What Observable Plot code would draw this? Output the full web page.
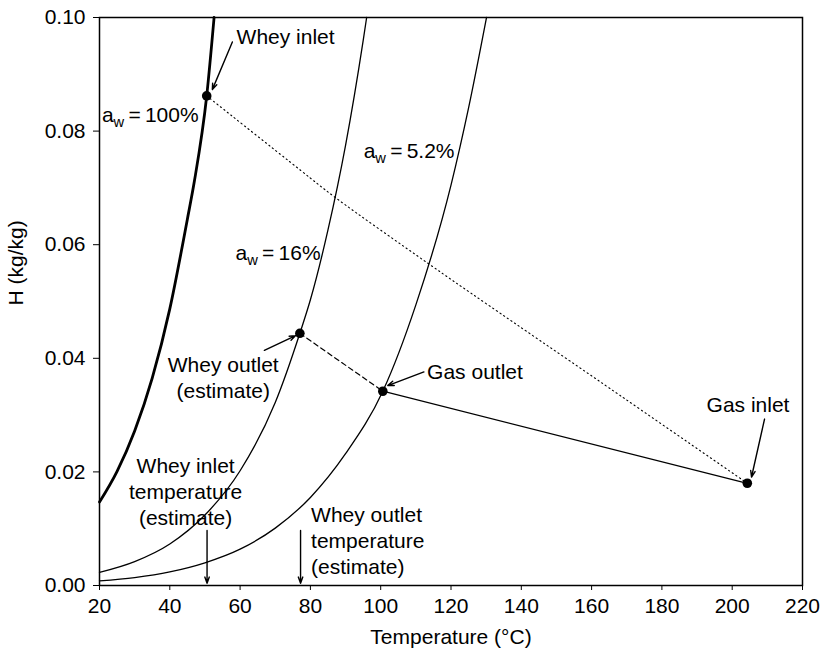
<!DOCTYPE html>
<html><head><meta charset="utf-8">
<script src="https://cdn.jsdelivr.net/npm/d3@7"></script>
<script src="https://cdn.jsdelivr.net/npm/@observablehq/plot@0.6"></script>
<style>
body{margin:0;background:#fff;}
#chart svg{display:block;}
</style>
</head><body><div id="chart"></div>
<script>
// Axis ticks
const xTicks = [20, 40, 60, 80, 100, 120, 140, 160, 180, 200, 220];
const yTicks = [0, 0.02, 0.04, 0.06, 0.08, 0.10];

// Equilibrium curves
const curve100T = [20, 25, 30, 35, 40, 45, 47, 50.5, 52.6];
const curve100H = [0.0147, 0.0201, 0.0272, 0.0365, 0.0487, 0.0645, 0.0712, 0.0862, 0.1000];

const curve16T = [20, 30, 40, 50, 60, 70, 77.0, 80, 85, 90, 95, 96];
const curve16H = [0.0023, 0.0042, 0.0073, 0.0124, 0.0202, 0.0322, 0.0444, 0.0503, 0.0626, 0.0775, 0.0959, 0.1000];

const curve5T = [20, 30, 40, 50, 60, 70, 80, 90, 100.6, 110, 120, 125, 130.1];
const curve5H = [0.0008, 0.0014, 0.0024, 0.0040, 0.0064, 0.0101, 0.0155, 0.0232, 0.0342, 0.0494, 0.0705, 0.0841, 0.1000];

// Process points
const pointNames = ["Whey inlet", "Whey outlet", "Gas outlet", "Gas inlet"];
const pointT = [50.5, 77.0, 100.6, 204.3];
const pointH = [0.0862, 0.0444, 0.0342, 0.0180];

// Dotted path whey inlet -> gas inlet
const dottedT = [50.5, 77.2, 87.1, 113.5, 130.3, 162.6, 204.3];
const dottedH = [0.0862, 0.0731, 0.0683, 0.0567, 0.0495, 0.0358, 0.0180];

// Arrows (tail -> head)
const arrowT1 = [57.8, 66.9, 112.3, 209.2, 50.6, 77.2];
const arrowH1 = [0.0957, 0.0414, 0.0376, 0.0293, 0.0097, 0.0097];
const arrowT2 = [52.1, 75.8, 102.0, 205.5, 50.6, 77.2];
const arrowH2 = [0.0873, 0.0440, 0.0352, 0.0191, 0.0004, 0.0004];

// Annotation labels
const labelText = ["Whey inlet", "Whey outlet\n(estimate)", "Gas outlet", "Gas inlet",
  "Whey inlet\ntemperature\n(estimate)", "Whey outlet\ntemperature\n(estimate)",
  "a_w\u2009=\u2009100%", "a_w\u2009=\u200916%", "a_w\u2009=\u20095.2%"];
const labelT = [59.0, 55.2, 113.2, 204.5, 44.5, 80.2, 48.2, 82.9, 121.0];
const labelH = [0.0968, 0.0368, 0.0379, 0.0320, 0.0167, 0.0081, 0.0831, 0.0588, 0.0768];
const labelAnchor = ["start", "middle", "start", "middle", "middle", "start", "end", "end", "end"];

const xTitle = "Temperature (°C)";
const yTitle = "H (kg/kg)";

// Build tables
const toRows = (xs, ys) => xs.map((x, i) => ({x, y: ys[i]}));
const c100 = toRows(curve100T, curve100H);
const c16 = toRows(curve16T, curve16H);
const c5 = toRows(curve5T, curve5H);
const pts = pointNames.map((n, i) => ({name: n, x: pointT[i], y: pointH[i]}));
const dotted = toRows(dottedT, dottedH);
const dashed = [pts[1], pts[2]];
const solid = [pts[2], pts[3]];
const arrows = arrowT1.map((d, i) => ({x1: d, y1: arrowH1[i], x2: arrowT2[i], y2: arrowH2[i]}));
const labels = labelText.map((t, i) => ({text: t, x: labelT[i], y: labelH[i], anchor: labelAnchor[i]}));

const FS = 21;
const textOpts = (anchor) => ({
  x: "x", y: "y", text: "text", fontSize: FS, textAnchor: anchor, lineHeight: 1.24, fill: "black"
});

const chart = Plot.plot({
  width: 820,
  height: 652,
  marginLeft: 99,
  marginRight: 18,
  marginTop: 17,
  marginBottom: 67,
  style: {fontFamily: "'Liberation Sans', Arial, Helvetica, sans-serif", fontSize: FS + "px", color: "black", background: "white"},
  x: {domain: [20, 220], ticks: xTicks, tickSize: 5, tickPadding: 8, label: null},
  y: {domain: [0, 0.1], ticks: yTicks, tickFormat: d3.format(".2f"), tickSize: 6, tickPadding: 8, label: null},
  marks: [
    Plot.line(c100, {x: "x", y: "y", stroke: "black", strokeWidth: 2.8, curve: "monotone-x"}),
    Plot.line(c16, {x: "x", y: "y", stroke: "black", strokeWidth: 1.3, curve: "monotone-x"}),
    Plot.line(c5, {x: "x", y: "y", stroke: "black", strokeWidth: 1.3, curve: "monotone-x"}),
    Plot.line(dotted, {x: "x", y: "y", stroke: "black", strokeWidth: 1.1, strokeDasharray: "1.2,3.2", curve: "catmull-rom"}),
    Plot.line(dashed, {x: "x", y: "y", stroke: "black", strokeWidth: 1.2, strokeDasharray: "5,3.5"}),
    Plot.line(solid, {x: "x", y: "y", stroke: "black", strokeWidth: 1.3}),
    Plot.arrow(arrows, {x1: "x1", y1: "y1", x2: "x2", y2: "y2", stroke: "black", strokeWidth: 1.4, headLength: 7, headAngle: 40}),
    Plot.dot(pts, {x: "x", y: "y", r: 4.8, fill: "black", stroke: "none"}),
    Plot.text(labels.filter(d => d.anchor === "start"), textOpts("start")),
    Plot.text(labels.filter(d => d.anchor === "middle"), textOpts("middle")),
    Plot.text(labels.filter(d => d.anchor === "end"), textOpts("end")),
    Plot.text([xTitle], {text: d => d, frameAnchor: "bottom", dy: 58, fontSize: FS, fill: "black"}),
    Plot.text([yTitle], {text: d => d, frameAnchor: "left", dx: -83, dy: 4, rotate: -90, fontSize: FS, fill: "black"}),
    Plot.frame({stroke: "black", strokeWidth: 1.5})
  ]
});

// Subscript "w" in a_w labels
d3.select(chart).selectAll("text").each(function() {
  const t = this.textContent;
  if (t.startsWith("a_w")) {
    const rest = t.slice(3);
    const sel = d3.select(this);
    sel.text(null);
    sel.append("tspan").text("a");
    sel.append("tspan").attr("font-size", "70%").attr("dy", 5).text("w");
    sel.append("tspan").attr("dy", -5).text(rest);
  }
});

document.getElementById("chart").appendChild(chart);
</script>
</body></html>
